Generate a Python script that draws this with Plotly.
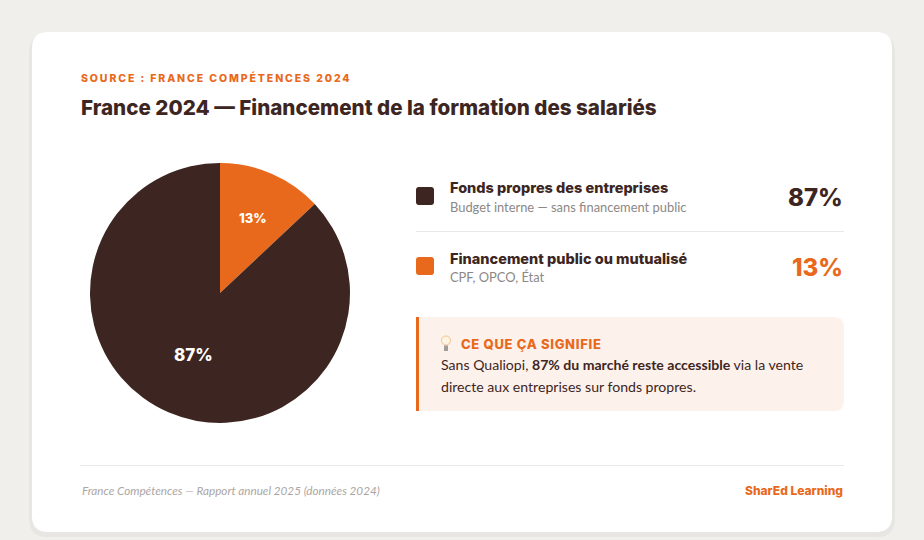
import math
import plotly.graph_objects as go

# --- data -------------------------------------------------------------
categories = ["Financement public ou mutualisé", "Fonds propres des entreprises"]
shares = [13, 87]
details = ["CPF, OPCO, État", "Budget interne — sans financement public"]

# legend rows are listed in reading order (largest first)
legend_order = [1, 0]

# --- style ------------------------------------------------------------
W, H = 924, 540
BROWN = "#3d2622"
ORANGE = "#e8691b"
GREY = "#8c8886"
FONT = "Lato"
BOLD_FONT = "Inter"
HEAVY = 800
slice_colors = [ORANGE, BROWN]
label_radius = [0.63, 0.52]     # fraction of pie radius for the % labels
label_size = [13, 17]


def px(x):
    return x / W


def py(y):
    return 1 - y / H


def rounded_rect(x0, y0, x1, y1, r, left=True):
    """SVG path (paper coords) for a rounded rectangle given pixel corners."""
    rl = r if left else 0
    pts = [
        f"M {px(x0 + rl)},{py(y0)}",
        f"L {px(x1 - r)},{py(y0)}",
        f"Q {px(x1)},{py(y0)} {px(x1)},{py(y0 + r)}",
        f"L {px(x1)},{py(y1 - r)}",
        f"Q {px(x1)},{py(y1)} {px(x1 - r)},{py(y1)}",
        f"L {px(x0 + rl)},{py(y1)}",
        f"Q {px(x0)},{py(y1)} {px(x0)},{py(y1 - rl)}",
        f"L {px(x0)},{py(y0 + rl)}",
        f"Q {px(x0)},{py(y0)} {px(x0 + rl)},{py(y0)}",
        "Z",
    ]
    return " ".join(pts)


fig = go.Figure()

# pie
cx, cy, R = 220, 293, 130
fig.add_trace(go.Pie(
    labels=categories,
    values=shares,
    sort=False,
    direction="clockwise",
    rotation=0,
    marker=dict(colors=slice_colors, line=dict(width=0)),
    textinfo="none",
    hoverinfo="label+percent",
    showlegend=False,
    domain=dict(x=[px(cx - R), px(cx + R)], y=[py(cy + R), py(cy - R)]),
))

shapes = []
annotations = []

# card background + soft shadow
shapes.append(dict(type="path", path=rounded_rect(29, 34, 895, 537, 18),
                   xref="paper", yref="paper", fillcolor="rgba(0,0,0,0.035)",
                   line=dict(width=0), layer="below"))
shapes.append(dict(type="path", path=rounded_rect(32, 32, 892, 532, 16),
                   xref="paper", yref="paper", fillcolor="white",
                   line=dict(width=0), layer="below"))


def text(x, y, s, size, color, weight="normal", anchor="left", style="normal", family=FONT):
    annotations.append(dict(
        x=px(x), y=py(y), xref="paper", yref="paper", text=s, showarrow=False,
        xanchor=anchor, yanchor="middle",
        font=dict(family=family, size=size, color=color, weight=weight, style=style),
    ))


# header
text(79, 78, '<span style="letter-spacing:1.9px">SOURCE : FRANCE COMPÉTENCES 2024</span>',
     10.5, ORANGE, weight=HEAVY, family=BOLD_FONT)
text(79, 107, "France 2024 — Financement de la formation des salariés", 20.6,
     BROWN, weight=HEAVY, family=BOLD_FONT)

# pie labels, placed at each slice's mid angle
start = 0.0
total = sum(shares)
for i, v in enumerate(shares):
    mid = start + v / total * 360 / 2
    start += v / total * 360
    a = math.radians(mid)
    lx = cx + label_radius[i] * R * math.sin(a)
    ly = cy - label_radius[i] * R * math.cos(a)
    text(lx, ly, f"{v}%", label_size[i], "white", weight=HEAVY, anchor="center",
         family=BOLD_FONT)

# legend rows
row_y = [196, 266]
for row, idx in enumerate(legend_order):
    y = row_y[row]
    shapes.append(dict(type="path", path=rounded_rect(416, y - 9, 434, y + 9, 3),
                       xref="paper", yref="paper", fillcolor=slice_colors[idx],
                       line=dict(width=0)))
    text(448, y - 8, categories[idx], 14.5, BROWN, weight=HEAVY, family=BOLD_FONT)
    text(448, y + 11, details[idx], 12.9, GREY)
    pct_color = BROWN if row == 0 else ORANGE
    text(845, y + 1, f"{shares[idx]}%", 24, pct_color, weight=HEAVY, anchor="right",
         family=BOLD_FONT)

# separator between rows
shapes.append(dict(type="line", xref="paper", yref="paper",
                   x0=px(416), x1=px(844), y0=py(231.5), y1=py(231.5),
                   line=dict(color="#ebe9e7", width=1)))

# callout box
shapes.append(dict(type="path", path=rounded_rect(416, 317, 844, 411, 10, left=False),
                   xref="paper", yref="paper", fillcolor="#fdf1ec",
                   line=dict(width=0)))
shapes.append(dict(type="rect", xref="paper", yref="paper",
                   x0=px(416), x1=px(419), y0=py(411), y1=py(317),
                   fillcolor=ORANGE, line=dict(width=0)))
# little bulb
shapes.append(dict(type="circle", xref="paper", yref="paper",
                   x0=px(441.5), x1=px(450.5), y0=py(345), y1=py(336),
                   fillcolor="#fff4e2", line=dict(color="#f0c48e", width=1)))
shapes.append(dict(type="rect", xref="paper", yref="paper",
                   x0=px(444), x1=px(448), y0=py(351), y1=py(345.5),
                   fillcolor="#a09c98", line=dict(width=0)))
text(459, 343.5, '<span style="letter-spacing:0.7px">CE QUE ÇA SIGNIFIE</span>', 13,
     ORANGE, weight=HEAVY, family=BOLD_FONT)
text(439, 364, "Sans Qualiopi, <b>87% du marché reste accessible</b> via la vente", 14.1, BROWN)
text(439, 386, "directe aux entreprises sur fonds propres.", 14.1, BROWN)

# footer
shapes.append(dict(type="line", xref="paper", yref="paper",
                   x0=px(80), x1=px(844), y0=py(465.5), y1=py(465.5),
                   line=dict(color="#ebe9e7", width=1)))
text(80, 489.5, "France Compétences — Rapport annuel 2025 (données 2024)", 11.7,
     "#aaa6a3", style="italic")
text(845, 490.5, "SharEd Learning", 12, ORANGE, weight=HEAVY, anchor="right",
     family=BOLD_FONT)

fig.update_layout(
    width=W, height=H,
    margin=dict(l=0, r=0, t=0, b=0),
    paper_bgcolor="#f1efec",
    plot_bgcolor="#f1efec",
    shapes=shapes,
    annotations=annotations,
    showlegend=False,
)

fig.write_html("out.html", config=dict(displayModeBar=False),
               post_script="document.body.style.margin='0';")
